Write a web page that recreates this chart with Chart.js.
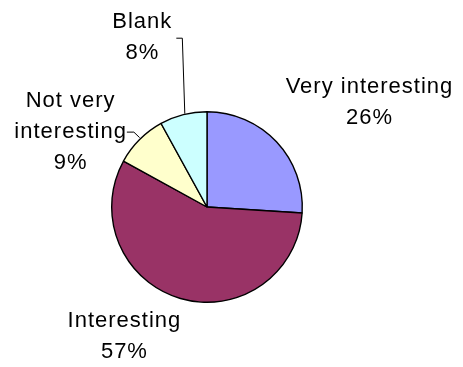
<!DOCTYPE html>
<html>
<head>
<meta charset="utf-8">
<script src="https://cdn.jsdelivr.net/npm/chart.js@4.4.1/dist/chart.umd.min.js"></script>
<style>
  html, body { margin: 0; padding: 0; background: #fff; }
  #wrap { width: 463px; height: 367px; }
</style>
</head>
<body>
<div id="wrap"><canvas id="c" width="463" height="367"></canvas></div>
<script>
// Survey answers and their share of responses
const categories = ['Very interesting', 'Interesting', 'Not very interesting', 'Blank'];
const shares = [26, 57, 9, 8];
const sliceColors = ['#9999FF', '#993366', '#FFFFCC', '#CCFFFF'];

// Label text split into lines
const labelLines = [
  ['Very interesting'],
  ['Interesting'],
  ['Not very', 'interesting'],
  ['Blank']
];
// Label block centre, offset from the slice's outer edge at its mid-angle
const labelOffsets = [
  [93, -39],
  [-56, 38],
  [-69, -8],
  [-41, -77]
];
// Which labels get a leader line back to the slice
const hasLeader = [false, false, true, true];

const FONT = '22px "Liberation Sans", Arial, sans-serif';
const LINE_H = 31;

const sliceLabels = {
  id: 'sliceLabels',
  afterDatasetsDraw(chart) {
    const ctx = chart.ctx;
    const meta = chart.getDatasetMeta(0);
    const data = chart.data.datasets[0].data;
    const total = data.reduce((a, b) => a + b, 0);
    ctx.save();
    ctx.font = FONT;
    try { ctx.letterSpacing = '1px'; } catch (e) {}
    ctx.fillStyle = '#000';
    ctx.textAlign = 'center';
    ctx.textBaseline = 'middle';
    meta.data.forEach((arc, i) => {
      const p = arc.getProps(['x', 'y', 'startAngle', 'endAngle', 'outerRadius'], true);
      const mid = (p.startAngle + p.endAngle) / 2;
      const ex = p.x + Math.cos(mid) * p.outerRadius;
      const ey = p.y + Math.sin(mid) * p.outerRadius;
      const cx = ex + labelOffsets[i][0];
      const cy = ey + labelOffsets[i][1];
      const pct = Math.round(data[i] / total * 100) + '%';
      const lines = labelLines[i].concat([pct]);
      const n = lines.length;
      lines.forEach((t, k) => {
        ctx.fillText(t, cx, cy + (k - (n - 1) / 2) * LINE_H);
      });
      if (hasLeader[i]) {
        ctx.strokeStyle = '#000';
        ctx.lineWidth = 1;
        ctx.beginPath();
        if (i === 3) {
          // from the right of the block, a short tick then down to the slice
          const w = ctx.measureText(lines[0]).width;
          const lx = cx + w / 2 + 4;
          ctx.moveTo(lx, cy + 0.5);
          ctx.lineTo(lx + 6, cy + 0.5);
          ctx.lineTo(ex + 1.5, ey - 1);
        } else {
          // from the end of the widest line across to the slice
          const w = ctx.measureText(lines[1]).width;
          const lx = cx + w / 2;
          const ly = cy + 0.5;
          ctx.moveTo(lx, ly);
          ctx.lineTo(lx + 7, ly);
          ctx.lineTo(ex, ey - 2);
        }
        ctx.stroke();
      }
    });
    ctx.restore();
  }
};

new Chart(document.getElementById('c'), {
  type: 'pie',
  data: {
    labels: categories,
    datasets: [{
      data: shares,
      backgroundColor: sliceColors,
      borderColor: '#000',
      borderWidth: 1.4
    }]
  },
  options: {
    responsive: false,
    animation: false,
    layout: { padding: { top: 111, bottom: 64, left: 111, right: 160 } },
    plugins: {
      legend: { display: false },
      tooltip: { enabled: false }
    }
  },
  plugins: [sliceLabels]
});
</script>
</body>
</html>
